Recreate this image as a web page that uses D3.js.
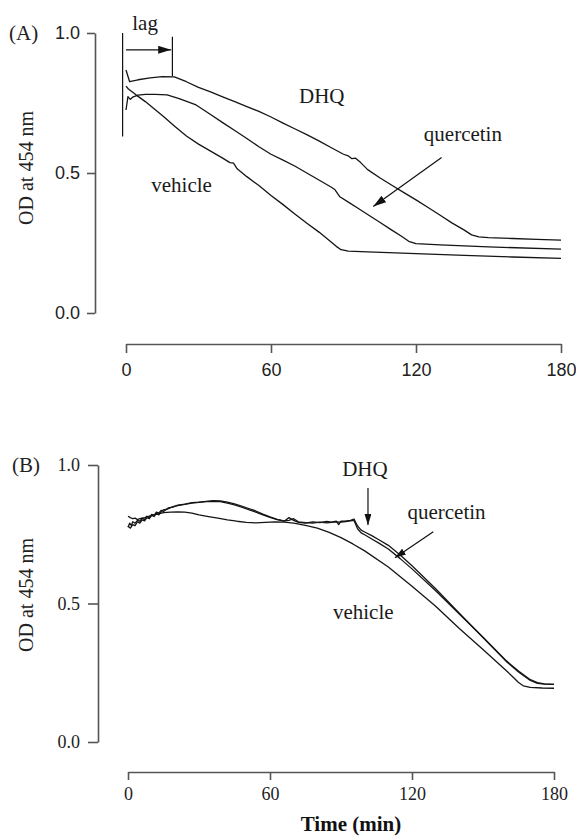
<!DOCTYPE html>
<html>
<head>
<meta charset="utf-8">
<script src="https://cdn.jsdelivr.net/npm/d3@7"></script>
<style>
  html, body { margin: 0; padding: 0; background: #fff; }
  svg { display: block; }
</style>
</head>
<body>
<div id="chart"></div>
<script>
// ---------------- DATA ----------------
const xTicks = [0, 60, 120, 180];
const yTicks = [0.0, 0.5, 1.0];

// Panel A
const aVehicleT = [0, 1, 4, 8, 12, 16, 20, 25, 30, 35, 40, 43, 44.5, 46, 50, 55, 60, 65, 70, 75, 80, 85, 87, 89, 92, 100, 120, 140, 160, 180];
const aVehicleV = [0.81, 0.80, 0.78, 0.755, 0.727, 0.698, 0.668, 0.632, 0.603, 0.578, 0.553, 0.537, 0.535, 0.515, 0.487, 0.455, 0.42, 0.387, 0.353, 0.32, 0.288, 0.253, 0.238, 0.226, 0.221, 0.218, 0.212, 0.206, 0.200, 0.195];

const aDhqT = [0, 1.5, 5, 10, 15, 20, 25, 30, 35, 40, 45, 50, 55, 60, 65, 70, 75, 80, 85, 90, 92, 93.5, 95, 97, 100, 105, 110, 115, 120, 125, 130, 135, 140, 143, 146, 150, 160, 170, 180];
const aDhqV = [0.868, 0.826, 0.833, 0.840, 0.844, 0.843, 0.826, 0.806, 0.79, 0.772, 0.755, 0.737, 0.72, 0.70, 0.678, 0.657, 0.636, 0.614, 0.59, 0.567, 0.561, 0.551, 0.553, 0.538, 0.512, 0.483, 0.456, 0.43, 0.404, 0.377, 0.349, 0.321, 0.296, 0.279, 0.272, 0.269, 0.266, 0.263, 0.26];

const aQuerT = [0, 0.8, 1.8, 3, 5, 8, 12, 17, 22, 29, 35, 40, 45, 50, 55, 60, 65, 70, 75, 80, 85, 86.5, 88.5, 92, 96, 100, 105, 110, 114, 117, 120, 130, 150, 180];
const aQuerV = [0.725, 0.773, 0.763, 0.772, 0.778, 0.781, 0.781, 0.779, 0.766, 0.743, 0.709, 0.68, 0.652, 0.623, 0.594, 0.567, 0.546, 0.524, 0.499, 0.474, 0.449, 0.44, 0.415, 0.396, 0.374, 0.352, 0.324, 0.296, 0.274, 0.256, 0.248, 0.243, 0.236, 0.228];

// Panel B
const bVehicleT = [0, 1, 2, 3, 4, 5, 7, 9, 11, 13, 15, 18, 21, 24, 27, 30, 34, 38, 42, 46, 50, 54, 58, 62, 66, 70, 75, 80, 85, 90, 95, 100, 110, 120, 130, 140, 150, 160, 163, 165, 167, 170, 175, 180];
const bVehicleV = [0.815, 0.81, 0.806, 0.808, 0.803, 0.806, 0.81, 0.815, 0.82, 0.824, 0.828, 0.83, 0.831, 0.83, 0.826, 0.82, 0.814, 0.808, 0.802, 0.797, 0.793, 0.791, 0.793, 0.795, 0.794, 0.79, 0.782, 0.772, 0.757, 0.738, 0.715, 0.69, 0.632, 0.562, 0.49, 0.41, 0.334, 0.256, 0.232, 0.215, 0.203, 0.197, 0.195, 0.194];

const bDhqT = [0, 0.7, 1.4, 2, 3, 4, 5, 6, 7, 8, 9, 10, 11, 12, 13, 14, 15, 17, 19, 21, 24, 27, 30, 33, 36, 39, 42, 45, 48, 51, 54, 57, 60, 63, 66, 68, 70, 72, 75, 78, 81, 84, 86, 88, 89, 90, 92, 94, 95.5, 97, 98.5, 100, 103, 106, 110, 115, 120, 130, 140, 150, 160, 165, 170, 173, 176, 180];
const bDhqV = [0.775, 0.79, 0.782, 0.795, 0.79, 0.80, 0.797, 0.808, 0.803, 0.815, 0.81, 0.822, 0.818, 0.83, 0.826, 0.836, 0.832, 0.845, 0.848, 0.855, 0.859, 0.864, 0.866, 0.869, 0.871, 0.87, 0.866, 0.86, 0.852, 0.843, 0.834, 0.823, 0.813, 0.804, 0.797, 0.81, 0.80, 0.793, 0.79, 0.795, 0.792, 0.796, 0.794, 0.797, 0.785, 0.797, 0.797, 0.80, 0.805, 0.78, 0.765, 0.758, 0.745, 0.73, 0.71, 0.675, 0.636, 0.553, 0.465, 0.377, 0.29, 0.253, 0.222, 0.212, 0.209, 0.208];

const bQuerT = [0, 1, 2, 3, 4, 5, 6, 7, 8, 9, 10, 11, 12, 13, 14, 15, 17, 19, 21, 24, 27, 30, 33, 36, 39, 42, 45, 48, 51, 54, 57, 60, 63, 66, 68, 70, 72, 75, 78, 81, 84, 86, 88, 90, 92, 94, 95.5, 97, 98.5, 100, 103, 106, 110, 115, 120, 130, 140, 150, 160, 165, 170, 173, 176, 180];
const bQuerV = [0.78, 0.772, 0.785, 0.781, 0.795, 0.79, 0.802, 0.798, 0.81, 0.806, 0.818, 0.814, 0.826, 0.82, 0.832, 0.838, 0.842, 0.85, 0.853, 0.858, 0.862, 0.865, 0.868, 0.869, 0.868, 0.862, 0.856, 0.848, 0.839, 0.83, 0.82, 0.811, 0.803, 0.798, 0.80, 0.806, 0.795, 0.792, 0.79, 0.794, 0.791, 0.793, 0.795, 0.794, 0.796, 0.798, 0.80, 0.77, 0.755, 0.748, 0.733, 0.718, 0.697, 0.662, 0.625, 0.546, 0.462, 0.378, 0.292, 0.256, 0.225, 0.214, 0.21, 0.208];

// Annotations (data coordinates)
const aLabels = [
  { text: "DHQ", t: 81, v: 0.75 },
  { text: "quercetin", t: 139.4, v: 0.614 },
  { text: "vehicle", t: 23, v: 0.432 }
];
const aArrow = { t1: 130.6, v1: 0.555, t2: 102.3, v2: 0.38 };
const lagStartLine = { t: -1.4, v1: 1.0, v2: 0.63 };
const lagEndLine = { t: 19.2, v1: 0.987, v2: 0.846 };
const lagArrow = { t1: 0, t2: 18.7, v: 0.94 };
const lagLabel = { text: "lag", t: 7.9, v: 1.01 };

const bLabels = [
  { text: "DHQ", t: 100.1, v: 0.96 },
  { text: "quercetin", t: 134.6, v: 0.805 },
  { text: "vehicle", t: 99.4, v: 0.444 }
];
const bArrows = [
  { t1: 101.4, v1: 0.917, t2: 101.4, v2: 0.783 },
  { t1: 129, v1: 0.759, t2: 112.8, v2: 0.665 }
];

// ---------------- DRAW ----------------
const W = 576, H = 836;
const SERIF = "'Liberation Serif', 'Times New Roman', Times, serif";
const SANS = "'Liberation Sans', Arial, Helvetica, sans-serif";
const AXIS_COLOR = "#555";

const svg = d3.select("#chart").append("svg")
  .attr("width", W).attr("height", H)
  .attr("viewBox", `0 0 ${W} ${H}`);

const defs = svg.append("defs");
function marker(id, len, wid) {
  defs.append("marker")
    .attr("id", id)
    .attr("markerUnits", "userSpaceOnUse")
    .attr("viewBox", `0 0 ${len} ${wid}`)
    .attr("refX", len).attr("refY", wid / 2)
    .attr("markerWidth", len).attr("markerHeight", wid)
    .attr("orient", "auto")
    .append("path")
    .attr("d", `M0,0L${len},${wid / 2}L0,${wid}Z`)
    .attr("fill", "#111");
}
marker("headA", 13, 8);
marker("headB", 11, 7);

const zip = (ts, vs) => ts.map((t, i) => [t, vs[i]]);

function drawPanel(cfg) {
  const x = d3.scaleLinear().domain([0, 180]).range(cfg.xRange);
  const y = d3.scaleLinear().domain([0, 1]).range(cfg.yRange);
  const g = svg.append("g");

  // y axis
  const yAxis = d3.axisLeft(y).tickValues(yTicks).tickFormat(d3.format(".1f"))
    .tickSize(cfg.yTickSize).tickSizeOuter(0).tickPadding(cfg.yPad);
  const gy = g.append("g").attr("transform", `translate(${cfg.yAxisX},0)`).call(yAxis);
  // x axis
  const xAxis = d3.axisBottom(x).tickValues(xTicks).tickFormat(d3.format("d"))
    .tickSize(cfg.xTickSize).tickSizeOuter(0).tickPadding(cfg.xPad);
  const gx = g.append("g").attr("transform", `translate(0,${cfg.xAxisY})`).call(xAxis);

  [gx, gy].forEach(ax => {
    ax.select(".domain").attr("stroke", AXIS_COLOR).attr("stroke-width", 1.6);
    ax.selectAll(".tick line").attr("stroke", AXIS_COLOR).attr("stroke-width", 1.6);
    ax.selectAll(".tick text").attr("fill", "#222")
      .style("font-family", cfg.tickFont).style("font-size", cfg.tickSize + "px");
  });

  // y title
  g.append("text")
    .attr("transform", `translate(${cfg.yTitleX},${cfg.yTitleY}) rotate(-90)`)
    .attr("text-anchor", "middle").attr("dominant-baseline", "central")
    .style("font-family", SERIF).style("font-size", "20px").attr("fill", "#222")
    .text("OD at 454 nm");

  // panel label
  g.append("text")
    .attr("x", cfg.panelX).attr("y", y(1)).attr("dy", "0.33em")
    .style("font-family", SERIF).style("font-size", "21px").attr("fill", "#222")
    .text(cfg.panel);

  // series
  const line = d3.line().x(d => x(d[0])).y(d => y(d[1]));
  cfg.series.forEach(s => {
    g.append("path").datum(zip(s[0], s[1]))
      .attr("d", line).attr("fill", "none")
      .attr("stroke", "#151515").attr("stroke-width", 1.3)
      .attr("stroke-linejoin", "round");
  });

  // labels
  cfg.labels.forEach(l => {
    g.append("text").attr("x", x(l.t)).attr("y", y(l.v))
      .attr("text-anchor", "middle")
      .style("font-family", SERIF).style("font-size", "21px").attr("fill", "#1a1a1a")
      .text(l.text);
  });

  // arrows
  cfg.arrows.forEach(a => {
    g.append("line")
      .attr("x1", x(a.t1)).attr("y1", y(a.v1))
      .attr("x2", x(a.t2)).attr("y2", y(a.v2))
      .attr("stroke", "#111").attr("stroke-width", 1.2)
      .attr("marker-end", `url(#${cfg.head})`);
  });
  return { g, x, y };
}

const A = drawPanel({
  panel: "(A)", panelX: 9,
  xRange: [126, 561], yRange: [313, 33],
  yAxisX: 95, xAxisY: 344,
  yTickSize: 8, xTickSize: 9, yPad: 7, xPad: 10,
  tickFont: SANS, tickSize: 18,
  yTitleX: 26, yTitleY: 168,
  series: [[aVehicleT, aVehicleV], [aDhqT, aDhqV], [aQuerT, aQuerV]],
  labels: aLabels, arrows: [aArrow], head: "headA"
});

// lag annotation (panel A)
[lagStartLine, lagEndLine].forEach(l => {
  A.g.append("line")
    .attr("x1", A.x(l.t)).attr("x2", A.x(l.t))
    .attr("y1", A.y(l.v1)).attr("y2", A.y(l.v2))
    .attr("stroke", "#111").attr("stroke-width", 1.2);
});
A.g.append("line")
  .attr("x1", A.x(lagArrow.t1)).attr("x2", A.x(lagArrow.t2))
  .attr("y1", A.y(lagArrow.v)).attr("y2", A.y(lagArrow.v))
  .attr("stroke", "#111").attr("stroke-width", 1.2)
  .attr("marker-end", "url(#headA)");
A.g.append("text")
  .attr("x", A.x(lagLabel.t)).attr("y", A.y(lagLabel.v))
  .attr("text-anchor", "middle")
  .style("font-family", SERIF).style("font-size", "21px").attr("fill", "#1a1a1a")
  .text(lagLabel.text);

const B = drawPanel({
  panel: "(B)", panelX: 12,
  xRange: [128, 554], yRange: [742, 465],
  yAxisX: 98, xAxisY: 772,
  yTickSize: 10, xTickSize: 8, yPad: 8, xPad: 7,
  tickFont: SERIF, tickSize: 18,
  yTitleX: 26, yTitleY: 595,
  series: [[bVehicleT, bVehicleV], [bDhqT, bDhqV], [bQuerT, bQuerV]],
  labels: bLabels, arrows: bArrows, head: "headB"
});

// x title (panel B)
svg.append("text")
  .attr("x", B.x(90) + 10).attr("y", 831)
  .attr("text-anchor", "middle")
  .style("font-family", SERIF).style("font-size", "21px").style("font-weight", "bold")
  .attr("fill", "#111")
  .text("Time (min)");
</script>
</body>
</html>
